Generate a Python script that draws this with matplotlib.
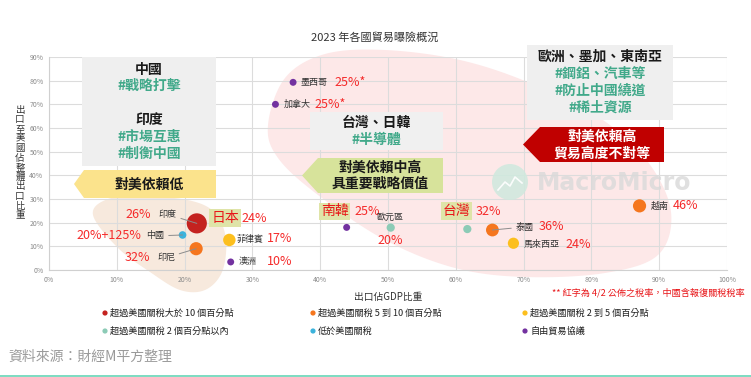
import numpy as np
import matplotlib
matplotlib.use("Agg")
import matplotlib.pyplot as plt
from matplotlib.patches import Polygon, Circle, Rectangle

plt.rcParams['font.family'] = ['Noto Sans CJK TC', 'DejaVu Sans']

# ---------------- data ----------------
countries = ['印度', '中國', '印尼', '菲律賓', '澳洲', '南韓', '歐元區', '台灣', '泰國', '馬來西亞', '越南', '墨西哥', '加拿大']
gdp_share = [21.8, 19.7, 21.7, 26.6, 26.8, 43.9, 50.4, 61.7, 65.4, 68.5, 87.1, 36.0, 33.4]       # 出口佔GDP比重 (%)
us_share = [19.7, 14.8, 9.0, 12.7, 3.4, 18.0, 17.9, 17.3, 16.9, 11.3, 27.1, 79.3, 70.0]          # 出口至美國佔整體出口比重 (%)
tariff_labels = ['26%', '20%+125%', '32%', '17%', '10%', '25%', '20%', '32%', '36%', '24%', '46%', '25%*', '25%*']
category = [0, 4, 1, 2, 5, 5, 3, 3, 1, 2, 1, 5, 5]
bubble = [210, 30, 90, 80, 25, 25, 35, 35, 85, 65, 90, 25, 25]

legend_labels = ['超過美國關稅大於 10 個百分點', '超過美國關稅 5 到 10 個百分點', '超過美國關稅 2 到 5 個百分點',
                 '超過美國關稅 2 個百分點以內', '低於美國關稅', '自由貿易協議']
legend_colors = ['#c4221f', '#f5761e', '#fcbf1e', '#8ccbb6', '#3cb3dc', '#7332a0']

x_ticks = [0, 10, 20, 30, 40, 50, 60, 70, 80, 90, 100]
y_ticks = [0, 10, 20, 30, 40, 50, 60, 70, 80, 90]

# label layout: (name offset, name ha, tariff offset, tariff ha, leader line)
layout = {
    '印度': ((-20, 9), 'right', (-46, 9), 'right', True),
    '中國': ((-18, -1), 'right', (-41, -1), 'right', True),
    '印尼': ((-21, -9), 'right', (-46, -9), 'right', True),
    '菲律賓': ((7, 1), 'left', (38, 1), 'left', False),
    '澳洲': ((8, 0), 'left', (36, 0), 'left', False),
    '南韓': (None, 'center', (8, 16), 'left', False),
    '歐元區': ((-1, 10), 'center', (0, -13), 'center', False),
    '台灣': (None, 'center', (8, 18), 'left', False),
    '泰國': ((23, 3), 'left', (46, 4), 'left', True),
    '馬來西亞': ((10, -1), 'left', (52, -1), 'left', False),
    '越南': ((11, -1), 'left', (33, 0), 'left', False),
    '墨西哥': ((7, 0), 'left', (41, 0), 'left', False),
    '加拿大': ((8, 0), 'left', (39, 0), 'left', False),
}
boxed = {'南韓': (-12, 16), '台灣': (-11, 18)}

W, H = 751, 377
fig = plt.figure(figsize=(W / 100, H / 100), dpi=100)
fig.patch.set_facecolor('white')

# background overlay (pixel coords)
bg = fig.add_axes([0, 0, 1, 1], zorder=0)
bg.set_xlim(0, W); bg.set_ylim(H, 0); bg.axis('off')


def closed_spline(pts, n=20):
    pts = np.asarray(pts, float)
    m = len(pts)
    out = []
    for i in range(m):
        p0, p1, p2, p3 = pts[(i - 1) % m], pts[i], pts[(i + 1) % m], pts[(i + 2) % m]
        for t in np.linspace(0, 1, n, endpoint=False):
            t2, t3 = t * t, t * t * t
            out.append(0.5 * ((2 * p1) + (-p0 + p2) * t + (2 * p0 - 5 * p1 + 4 * p2 - p3) * t2 + (-p0 + 3 * p1 - 3 * p2 + p3) * t3))
    return np.array(out)


pink_pts = [(268, 125), (285, 78), (325, 54), (385, 50), (460, 60), (530, 83), (600, 118), (648, 162),
            (671, 212), (658, 255), (605, 273), (525, 277), (455, 268), (385, 240), (318, 195), (278, 158)]
bg.add_patch(Polygon(closed_spline(pink_pts), closed=True, facecolor='#fde8e8', edgecolor='none'))
beige_pts = [(93, 215), (108, 199), (145, 196), (192, 201), (216, 214), (226, 240), (222, 272), (205, 290),
             (180, 290), (150, 272), (118, 248)]
bg.add_patch(Polygon(closed_spline(beige_pts), closed=True, facecolor='#f7e9dd', edgecolor='none'))

# ---------------- main axes ----------------
ax = fig.add_axes([49 / W, 1 - 270 / H, 678 / W, 213 / H], zorder=1)
ax.patch.set_alpha(0)
ax.set_xlim(0, 100); ax.set_ylim(0, 90)
ax.set_xticks(x_ticks); ax.set_yticks(y_ticks)
ax.set_xticklabels([f'{v}%' for v in x_ticks]); ax.set_yticklabels([f'{v}%' for v in y_ticks])
ax.tick_params(length=0, labelsize=5, colors='#8a8a8a', pad=4)
ax.grid(True, color='#dcdcdc', lw=0.8)
for s in ['top', 'right']:
    ax.spines[s].set_visible(False)
for s in ['left', 'bottom']:
    ax.spines[s].set_color('#d0d0d0')

for i, c in enumerate(countries):
    ax.scatter(gdp_share[i], us_share[i], s=bubble[i], color=legend_colors[category[i]], zorder=3, edgecolors='none')
    noff, nha, toff, tha, lead = layout[c]
    if noff is not None:
        kw = {}
        if lead:
            kw['arrowprops'] = dict(arrowstyle='-', color='#8c8c8c', lw=0.7, shrinkA=1, shrinkB=0)
        ax.annotate(c, (gdp_share[i], us_share[i]), xytext=noff, textcoords='offset pixels', ha=nha, va='center',
                    fontsize=6.5, color='#333333', zorder=5, **kw)
    ax.annotate(tariff_labels[i], (gdp_share[i], us_share[i]), xytext=toff, textcoords='offset pixels', ha=tha,
                va='center', fontsize=9, color='#f52a2a', zorder=4)
    if c in boxed:
        ax.annotate(c, (gdp_share[i], us_share[i]), xytext=boxed[c], textcoords='offset pixels', ha='center',
                    va='center', fontsize=10, color='#e8171a',
                    bbox=dict(boxstyle='square,pad=0.12', facecolor='#dfe4a8', edgecolor='none'), zorder=4)

ax.set_xlabel('出口佔GDP比重', fontsize=7, color='#333333', labelpad=6)

# ---------------- front overlay ----------------
fg = fig.add_axes([0, 0, 1, 1], zorder=2)
fg.set_xlim(0, W); fg.set_ylim(H, 0); fg.axis('off')
fg.patch.set_alpha(0)

green = '#41a98a'


def box(x0, x1, y0, y1, color):
    fg.add_patch(Rectangle((x0, y0), x1 - x0, y1 - y0, facecolor=color, edgecolor='none'))


def arrow(tip, left, right, top, bottom, color):
    mid = (top + bottom) / 2
    fg.add_patch(Polygon([(tip, mid), (left, top), (right, top), (right, bottom), (left, bottom)], closed=True,
                         facecolor=color, edgecolor='none'))


box(82, 216, 57, 166, '#efefef')
fg.text(149, 70, '中國', ha='center', va='center', fontsize=10, fontweight='bold', color='#1a1a1a')
fg.text(149, 86, '#戰略打擊', ha='center', va='center', fontsize=10, fontweight='bold', color=green)
fg.text(149, 120, '印度', ha='center', va='center', fontsize=10, fontweight='bold', color='#1a1a1a')
fg.text(149, 137, '#市場互惠', ha='center', va='center', fontsize=10, fontweight='bold', color=green)
fg.text(149, 154, '#制衡中國', ha='center', va='center', fontsize=10, fontweight='bold', color=green)

arrow(74, 84, 216, 170, 198, '#fbe38c')
fg.text(149, 185, '對美依賴低', ha='center', va='center', fontsize=10, fontweight='bold', color='#1a1a1a')

box(310, 443, 112, 150, '#f0f0f0')
fg.text(376, 123, '台灣、日韓', ha='center', va='center', fontsize=10, fontweight='bold', color='#1a1a1a')
fg.text(376, 140, '#半導體', ha='center', va='center', fontsize=10, fontweight='bold', color=green)

arrow(302, 318, 443, 158, 193, '#d7e39b')
fg.text(380, 168, '對美依賴中高', ha='center', va='center', fontsize=10, fontweight='bold', color='#1a1a1a')
fg.text(380, 184, '具重要戰略價值', ha='center', va='center', fontsize=10, fontweight='bold', color='#1a1a1a')

box(527, 673, 45, 120, '#efefef')
fg.text(600, 57, '歐洲、墨加、東南亞', ha='center', va='center', fontsize=10, fontweight='bold', color='#1a1a1a')
fg.text(600, 74, '#鋼鋁、汽車等', ha='center', va='center', fontsize=10, fontweight='bold', color=green)
fg.text(600, 91, '#防止中國繞道', ha='center', va='center', fontsize=10, fontweight='bold', color=green)
fg.text(600, 108, '#稀土資源', ha='center', va='center', fontsize=10, fontweight='bold', color=green)

arrow(523, 540, 664, 127, 162, '#c00000')
fg.text(602, 137, '對美依賴高', ha='center', va='center', fontsize=10, fontweight='bold', color='white')
fg.text(602, 154, '貿易高度不對等', ha='center', va='center', fontsize=10, fontweight='bold', color='white')

# Japan label (no visible point)
fg.text(225, 218, '日本', ha='center', va='center', fontsize=10, color='#e8171a',
        bbox=dict(boxstyle='square,pad=0.12', facecolor='#dfe4a8', edgecolor='none'))
fg.text(241, 218, '24%', ha='left', va='center', fontsize=9, color='#f52a2a')

# watermark
fg.add_patch(Circle((510, 182), 18, facecolor='#cfe9de', edgecolor='none', alpha=0.85))
fg.plot([498, 505, 510, 515, 522], [190, 182, 186, 177, 183], color='white', lw=1.2, alpha=0.9)
fg.text(537, 183, 'MacroMicro', ha='left', va='center', fontsize=17, fontweight='bold', color='#d9d9d9', alpha=0.8,
        family='DejaVu Sans')

# title, y label, note
fg.text(375, 38, '2023 年各國貿易曝險概況', ha='center', va='center', fontsize=8, color='#333333')
fg.text(20, 163, '\n'.join('出口至美國佔整體出口比重'), ha='center', va='center', fontsize=6.8, color='#333333',
        linespacing=1.08)
fg.text(745, 293, '** 紅字為 4/2 公佈之稅率，中國含報復關稅稅率', ha='right', va='center', fontsize=6.6, color='#e8171a')

# legend
leg_x = [103, 311, 523]
leg_y = [313, 331]
for i, (lab, col) in enumerate(zip(legend_labels, legend_colors)):
    cx, cy = leg_x[i % 3], leg_y[i // 3]
    fg.scatter([cx + 2], [cy], s=14, color=col, edgecolors='none')
    fg.text(cx + 7, cy, lab, ha='left', va='center', fontsize=6.6, color='#222222')

fg.text(8, 357, '資料來源：財經M平方整理', ha='left', va='center', fontsize=10, color='#9a9a9a', style='italic')
fg.add_patch(Rectangle((0, 374.5), W, 3, facecolor='#7fdcc2', edgecolor='none'))

fig.savefig('out.png', dpi=100, facecolor='white')
